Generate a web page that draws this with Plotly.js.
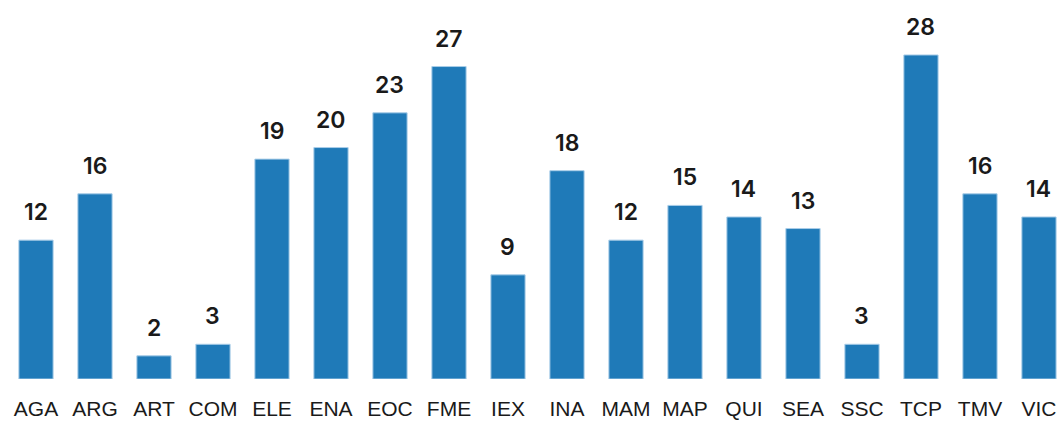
<!DOCTYPE html>
<html>
<head>
<meta charset="utf-8">
<script src="https://cdn.plot.ly/plotly-3.0.1.min.js"></script>
<style>html,body{margin:0;padding:0;background:#fff;}#chart{width:1064px;height:423px;}</style>
</head>
<body>
<div id="chart"></div>
<script>
const categories = ["AGA","ARG","ART","COM","ELE","ENA","EOC","FME","IEX","INA","MAM","MAP","QUI","SEA","SSC","TCP","TMV","VIC"];
const values = [12,16,2,3,19,20,23,27,9,18,12,15,14,13,3,28,16,14];

const trace = {
  type: 'bar',
  x: categories,
  y: values,
  marker: {color: '#1f7ab8', line: {color: '#a9cde8', width: 1}},
  width: 0.58,
  hoverinfo: 'none'
};

const annotations = categories.map((c, i) => ({
  x: c, y: values[i], xref: 'x', yref: 'y',
  text: String(values[i]),
  showarrow: false,
  yanchor: 'bottom',
  yshift: 12,
  font: {family: 'Inter, "Open Sans", sans-serif', size: 23, color: '#1a1a1a', weight: 600}
}));

const layout = {
  width: 1064, height: 423,
  margin: {l: 0, r: 0, t: 0, b: 44},
  paper_bgcolor: '#fff', plot_bgcolor: '#fff',
  showlegend: false,
  annotations: annotations,
  xaxis: {
    type: 'category',
    showgrid: false, zeroline: false, showline: false,
    ticks: '', ticklen: 0,
    ticklabelstandoff: 15,
    tickfont: {family: '"Liberation Sans", Arial, sans-serif', size: 21, color: '#1a1a1a'},
    range: [-0.61, 17.424]
  },
  yaxis: {
    range: [0, 32.75],
    visible: false,
    showgrid: false, zeroline: false
  }
};

Plotly.newPlot('chart', [trace], layout, {staticPlot: true, displayModeBar: false});
</script>
</body>
</html>
